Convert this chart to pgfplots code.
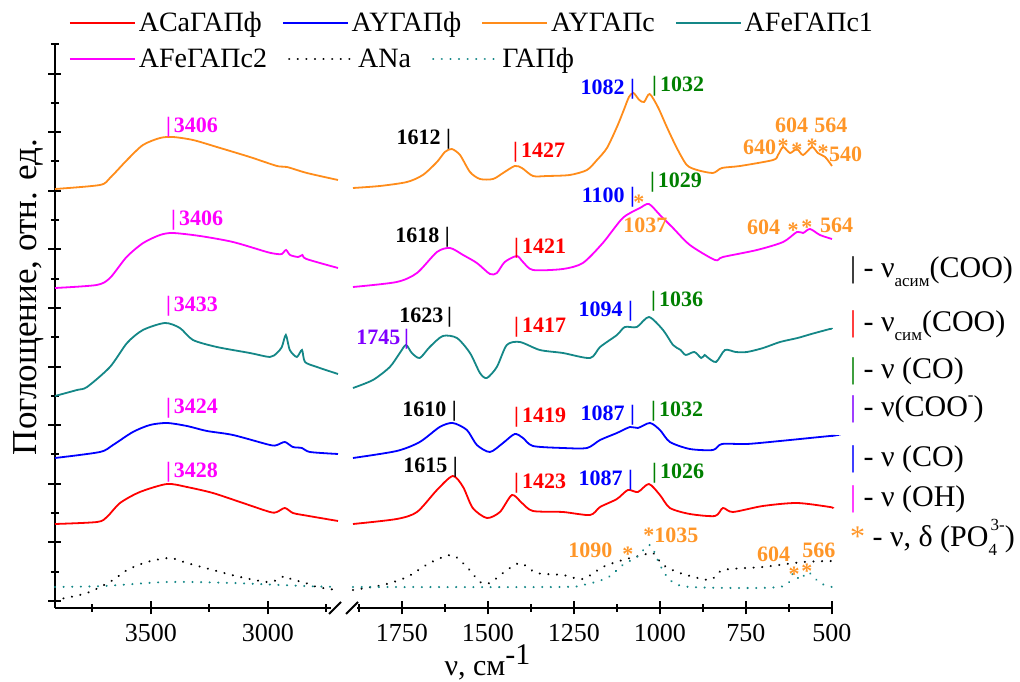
\documentclass[border=0pt]{standalone}
\usepackage{pgfplots}
\pgfplotsset{compat=1.18}
\usepackage{fontspec}
\setmainfont{Liberation Serif}

\definecolor{cRed}{RGB}{255,0,0}
\definecolor{cBlue}{RGB}{0,0,255}
\definecolor{cOrange}{RGB}{255,140,26}
\definecolor{cOrL}{RGB}{255,150,40}
\definecolor{cTeal}{RGB}{20,135,135}
\definecolor{cMag}{RGB}{255,0,255}
\definecolor{cGreen}{RGB}{0,128,0}
\definecolor{cViol}{RGB}{128,0,255}

\newcommand{\sub}[1]{\raisebox{-0.3em}{\fontsize{17}{20}\selectfont #1}}
\newcommand{\sups}[1]{\raisebox{0.55em}{\fontsize{17}{20}\selectfont #1}}
\newcommand{\lb}{|\kern3pt}

\tikzset{
  lbl/.style={font=\fontsize{22}{24}\selectfont\bfseries, inner sep=0pt},
  ast/.style={font=\fontsize{22}{24}\selectfont\bfseries, inner sep=0pt, text=cOrL, yshift=-4pt},
  rl/.style={font=\fontsize{30}{34}\selectfont, inner sep=0pt, anchor=base west},
}
\pgfplotsset{
  spec/.style={line width=1.8pt, smooth, tension=0.45},
  dots/.style={line width=2.2pt, line cap=round, dash pattern=on 0.1pt off 8.5pt, smooth, tension=0.45},
  base/.style={
    scale only axis, height=563.7pt, anchor=south west,
    ymin=74, ymax=637.7, x dir=reverse, clip=false,
    axis x line*=bottom,
    axis line style={line width=2pt, black},
    major tick length=13pt, minor tick length=8pt, tick align=center,
    tick style={black, line width=2pt},
    ticklabel style={font=\fontsize{26}{30}\selectfont},
    xticklabel style={yshift=-6pt},
    /pgf/number format/assume math mode=true,
    /pgf/number format/1000 sep={},
    legend image code/.code={\draw[##1] (0pt,0pt) -- (65pt,0pt);},
    legend style={draw=none, fill=none, legend columns=-1, inner sep=0pt, outer sep=0pt,
      anchor=west, font=\fontsize{28}{32}\selectfont, nodes={inner sep=3pt},
      /tikz/every even column/.append style={column sep=17pt}},
    legend cell align=left,
  },
}

\begin{document}
\begin{tikzpicture}
\useasboundingbox (0pt,0pt) rectangle (1020pt,682pt);

% ---------------- left panel ----------------
\begin{axis}[base, at={(55pt,74pt)}, width=283pt, xmin=2700, xmax=3910,
  axis y line*=left,
  xtick={3000,3500}, minor xtick={2750,3250,3750},
  ytick={81,139.6,198.2,256.8,315.4,374,432.6,491.2,549.8,608.4},
  minor ytick={110.3,168.9,227.5,286.1,344.7,403.3,461.9,520.5,579.1,637.7},
  yticklabels={},
  ylabel={Поглощение, отн. ед.},
  ylabel style={at={(axis description cs:-0.0636,0.5517)}, anchor=base, font=\fontsize{35}{40}\selectfont},
  legend style={at={(axis description cs:0.0495,1.0378)}},
]
\addplot[spec, cRed] coordinates {(3910,158) (3730,160) (3688,165) (3632,179) (3547,190) (3431,198) (3346,195) (3235,189) (3119,180) (2991,170) (2961,170) (2927,174) (2893,169) (2850,167) (2700,161)};
\addlegendentry{ACaГАПф}
\addplot[spec, cBlue] coordinates {(3910,224) (3718,230) (3662,237) (3577,250) (3504,257) (3431,259) (3346,256) (3260,251) (3149,247) (2991,237) (2961,237) (2927,240) (2893,235) (2854,234) (2820,230) (2700,228)};
\addlegendentry{AYГАПф}
\addplot[spec, cOrange] coordinates {(3910,493) (3718,497) (3675,504) (3602,522) (3534,537) (3461,544) (3406,545) (3320,542) (3218,535) (3077,525) (2961,516) (2918,515) (2833,509) (2700,502)};
\addlegendentry{AYГАПс}
\addplot[spec, cTeal] coordinates {(3910,286) (3816,292) (3773,295) (3675,315) (3602,339) (3534,352) (3440,359) (3376,354) (3320,342) (3218,335) (3077,329) (2991,325) (2961,329) (2940,335) (2923,347) (2906,332) (2876,325) (2854,332) (2841,320) (2790,315) (2700,308)};
\addlegendentry{AFeГАПс1}
\addplot[spec, cMag, forget plot] coordinates {(3910,394) (3732,397) (3675,404) (3604,425) (3533,439) (3461,447) (3406,449) (3290,446) (3149,440) (3004,430) (2961,428) (2940,428) (2922,432) (2905,427) (2870,425) (2852,427) (2835,423) (2700,414)};
\addplot[dots, black, forget plot] coordinates {(3910,82) (3773,89) (3662,102) (3602,112) (3517,120) (3418,124) (3346,119) (3235,112) (3119,105) (3004,100) (2961,102) (2927,106) (2893,102) (2850,100) (2790,95) (2705,92)};
\addplot[dots, cTeal, forget plot] coordinates {(3910,95) (3700,96) (3431,100) (3150,99) (2850,96) (2700,95)};

\node[lbl, text=cMag, anchor=base west] at (axis cs:3436,549) {\lb 3406};
\node[lbl, text=cMag, anchor=base west] at (axis cs:3414,456) {\lb 3406};
\node[lbl, text=cMag, anchor=base west] at (axis cs:3436,370) {\lb 3433};
\node[lbl, text=cMag, anchor=base west] at (axis cs:3436,268) {\lb 3424};
\node[lbl, text=cMag, anchor=base west] at (axis cs:3436,204) {\lb 3428};
\end{axis}

% ---------------- right panel ----------------
\begin{axis}[base, at={(353pt,74pt)}, width=479pt, xmin=500, xmax=1892,
  axis y line=none, ytick=\empty,
  xtick={500,750,1000,1250,1500,1750}, minor xtick={625,875,1125,1375,1625,1875},
  xlabel={ν, см\raisebox{0.38em}{-1}},
  xlabel style={at={(axis description cs:0.1837,-0.1206)}, anchor=base west, font=\fontsize{30}{34}\selectfont},
  legend style={at={(axis description cs:-0.5929,0.974)}, /tikz/every even column/.append style={column sep=18pt}},
]
\addplot[spec, cRed, forget plot] coordinates {(1892,158) (1765,163) (1706,170) (1648,192) (1602,206) (1572,195) (1544,174) (1503,164) (1465,170) (1430,187) (1401,179) (1369,171) (1282,170) (1203,167) (1174,175) (1125,183) (1093,192) (1064,190) (1032,198) (1000,187) (971,174) (913,168) (840,166) (817,174) (788,170) (701,176) (602,179) (506,175) (500,174)};
\addplot[spec, cBlue, forget plot] coordinates {(1892,224) (1765,231) (1698,240) (1640,255) (1602,259) (1561,252) (1532,237) (1494,230) (1456,239) (1422,248) (1398,244) (1369,236) (1282,234) (1212,234) (1174,242) (1125,249) (1087,255) (1064,254) (1029,259) (1000,252) (971,240) (913,233) (846,232) (820,238) (747,238) (651,241) (506,246) (500,246)};
\addplot[spec, cOrange, forget plot] coordinates {(1892,494) (1814,496) (1735,500) (1689,507) (1648,520) (1625,530) (1605,533) (1581,527) (1552,510) (1523,503) (1485,503) (1456,509) (1422,516) (1401,514) (1369,506) (1328,506) (1262,507) (1212,512) (1183,522) (1154,534) (1125,555) (1105,572) (1090,585) (1077,589) (1060,582) (1046,580) (1030,588) (1006,575) (980,555) (951,534) (922,517) (892,512) (846,509) (820,514) (767,516) (671,522) (657,527) (642,535) (622,529) (602,533) (584,527) (558,535) (541,529) (520,525) (500,516)};
\addplot[spec, cTeal, forget plot] coordinates {(1892,294) (1834,302) (1785,315) (1756,329) (1738,337) (1721,329) (1698,324) (1669,335) (1631,346) (1590,344) (1552,329) (1523,309) (1503,304) (1474,315) (1445,337) (1407,340) (1349,332) (1282,329) (1203,324) (1174,335) (1125,347) (1102,355) (1067,355) (1032,365) (991,352) (962,337) (940,332) (925,327) (900,330) (880,324) (870,327) (863,325) (837,320) (811,332) (780,330) (747,330) (700,334) (651,340) (600,344) (560,348) (506,353) (500,353)};
\addplot[spec, cMag] coordinates {(1892,395) (1765,400) (1706,409) (1648,430) (1610,434) (1572,427) (1532,419) (1494,408) (1474,409) (1451,420) (1416,426) (1398,420) (1369,412) (1282,413) (1224,419) (1166,439) (1108,464) (1058,474) (1032,478) (1000,467) (962,454) (913,437) (840,422) (817,425) (718,432) (642,440) (602,450) (584,449) (564,453) (535,447) (500,443)};
\addlegendentry{AFeГАПс2}
\addplot[dots, black] coordinates {(1892,92) (1805,97) (1735,105) (1669,119) (1605,127) (1561,115) (1523,100) (1494,99) (1456,109) (1407,119) (1358,109) (1282,107) (1224,103) (1166,115) (1108,122) (1049,127) (1020,129) (991,117) (942,109) (855,102) (817,112) (701,115) (584,120) (500,121)};
\addlegendentry{ANa}
\addplot[dots, cTeal] coordinates {(1892,95) (1300,95) (1224,97) (1154,104) (1108,117) (1067,125) (1029,137) (1000,117) (971,102) (913,95) (651,95) (613,109) (593,102) (570,110) (535,99) (500,95)};
\addlegendentry{ГАПф}

% orange row
\node[lbl, text=black, anchor=base east] at (axis cs:1607,537) {1612 |};
\node[lbl, text=cRed, anchor=base west] at (axis cs:1427,524) {\lb 1427};
\node[lbl, text=cBlue, anchor=base east] at (axis cs:1072,587) {1082 |};
\node[lbl, text=cGreen, anchor=base west] at (axis cs:1023,590) {\lb 1032};
\node[lbl, text=cOrL, anchor=base west] at (axis cs:666,549) {604};
\node[lbl, text=cOrL, anchor=base west] at (axis cs:552,549) {564};
\node[lbl, text=cOrL, anchor=base west] at (axis cs:759,527) {640};
\node[lbl, text=cOrL, anchor=base west] at (axis cs:509,520) {540};
\node[ast] at (axis cs:642,540) {*};
\node[ast] at (axis cs:602,536) {*};
\node[ast] at (axis cs:558,540) {*};
\node[ast] at (axis cs:526,534) {*};
% magenta row
\node[lbl, text=black, anchor=base east] at (axis cs:1610,439) {1618 |};
\node[lbl, text=cRed, anchor=base west] at (axis cs:1424,428) {\lb 1421};
\node[lbl, text=cBlue, anchor=base east] at (axis cs:1072,479) {1100 |};
\node[lbl, text=cGreen, anchor=base west] at (axis cs:1029,494) {\lb 1029};
\node[ast] at (axis cs:1061,484) {*};
\node[lbl, text=cOrL, anchor=base west] at (axis cs:1107,449) {1037};
\node[lbl, text=cOrL, anchor=base west] at (axis cs:747,447) {604};
\node[ast] at (axis cs:613,456) {*};
\node[ast] at (axis cs:573,459) {*};
\node[lbl, text=cOrL, anchor=base west] at (axis cs:535,449) {564};
% teal row
\node[lbl, text=black, anchor=base east] at (axis cs:1604,359) {1623\,|};
\node[lbl, text=cViol, anchor=base east] at (axis cs:1729,337) {1745\,|};
\node[lbl, text=cRed, anchor=base west] at (axis cs:1424,349) {\lb 1417};
\node[lbl, text=cBlue, anchor=base east] at (axis cs:1078,365) {1094 |};
\node[lbl, text=cGreen, anchor=base west] at (axis cs:1026,375) {\lb 1036};
% blue row
\node[lbl, text=black, anchor=base east] at (axis cs:1590,265) {1610 |};
\node[lbl, text=cRed, anchor=base west] at (axis cs:1424,259) {\lb 1419};
\node[lbl, text=cBlue, anchor=base east] at (axis cs:1072,261) {1087 |};
\node[lbl, text=cGreen, anchor=base west] at (axis cs:1026,265) {\lb 1032};
% red row
\node[lbl, text=black, anchor=base east] at (axis cs:1587,209) {1615 |};
\node[lbl, text=cRed, anchor=base west] at (axis cs:1424,193) {\lb 1423};
\node[lbl, text=cBlue, anchor=base east] at (axis cs:1078,196) {1087 |};
\node[lbl, text=cGreen, anchor=base west] at (axis cs:1023,203) {\lb 1026};
% reference row
\node[lbl, text=cOrL, anchor=base west] at (axis cs:1267,124) {1090};
\node[ast] at (axis cs:1093,132) {*};
\node[lbl, text=cOrL, anchor=base west] at (axis cs:1049,139) {*1035};
\node[lbl, text=cOrL, anchor=base west] at (axis cs:718,120) {604};
\node[lbl, text=cOrL, anchor=base west] at (axis cs:587,124) {566};
\node[ast] at (axis cs:610,112) {*};
\node[ast] at (axis cs:573,115) {*};

% assignment key
\node[rl] at (axis cs:448,404) {| - ν\sub{асим}(COO)};
\node[rl] at (axis cs:448,350) {\textcolor{cRed}{|} - ν\sub{сим}(COO)};
\node[rl] at (axis cs:448,303) {\textcolor{cGreen}{|} - ν (CO)};
\node[rl] at (axis cs:448,265) {\textcolor{cViol}{|} - ν(COO\sups{-})};
\node[rl] at (axis cs:448,215) {\textcolor{cBlue}{|} - ν (CO)};
\node[rl] at (axis cs:448,175) {\textcolor{cMag}{|} - ν (OH)};
\node[rl] at (axis cs:448,135) {\textcolor{cOrL}{*} - ν, δ (PO\rlap{\sub{4}}\kern2pt\sups{3-})};
\end{axis}

% axis break
\fill[white] (331pt,64pt) rectangle (357pt,84pt);
\draw[line width=2pt] (329pt,68pt) -- (341pt,80pt);
\draw[line width=2pt] (346pt,68pt) -- (358pt,80pt);
\end{tikzpicture}
\end{document}
